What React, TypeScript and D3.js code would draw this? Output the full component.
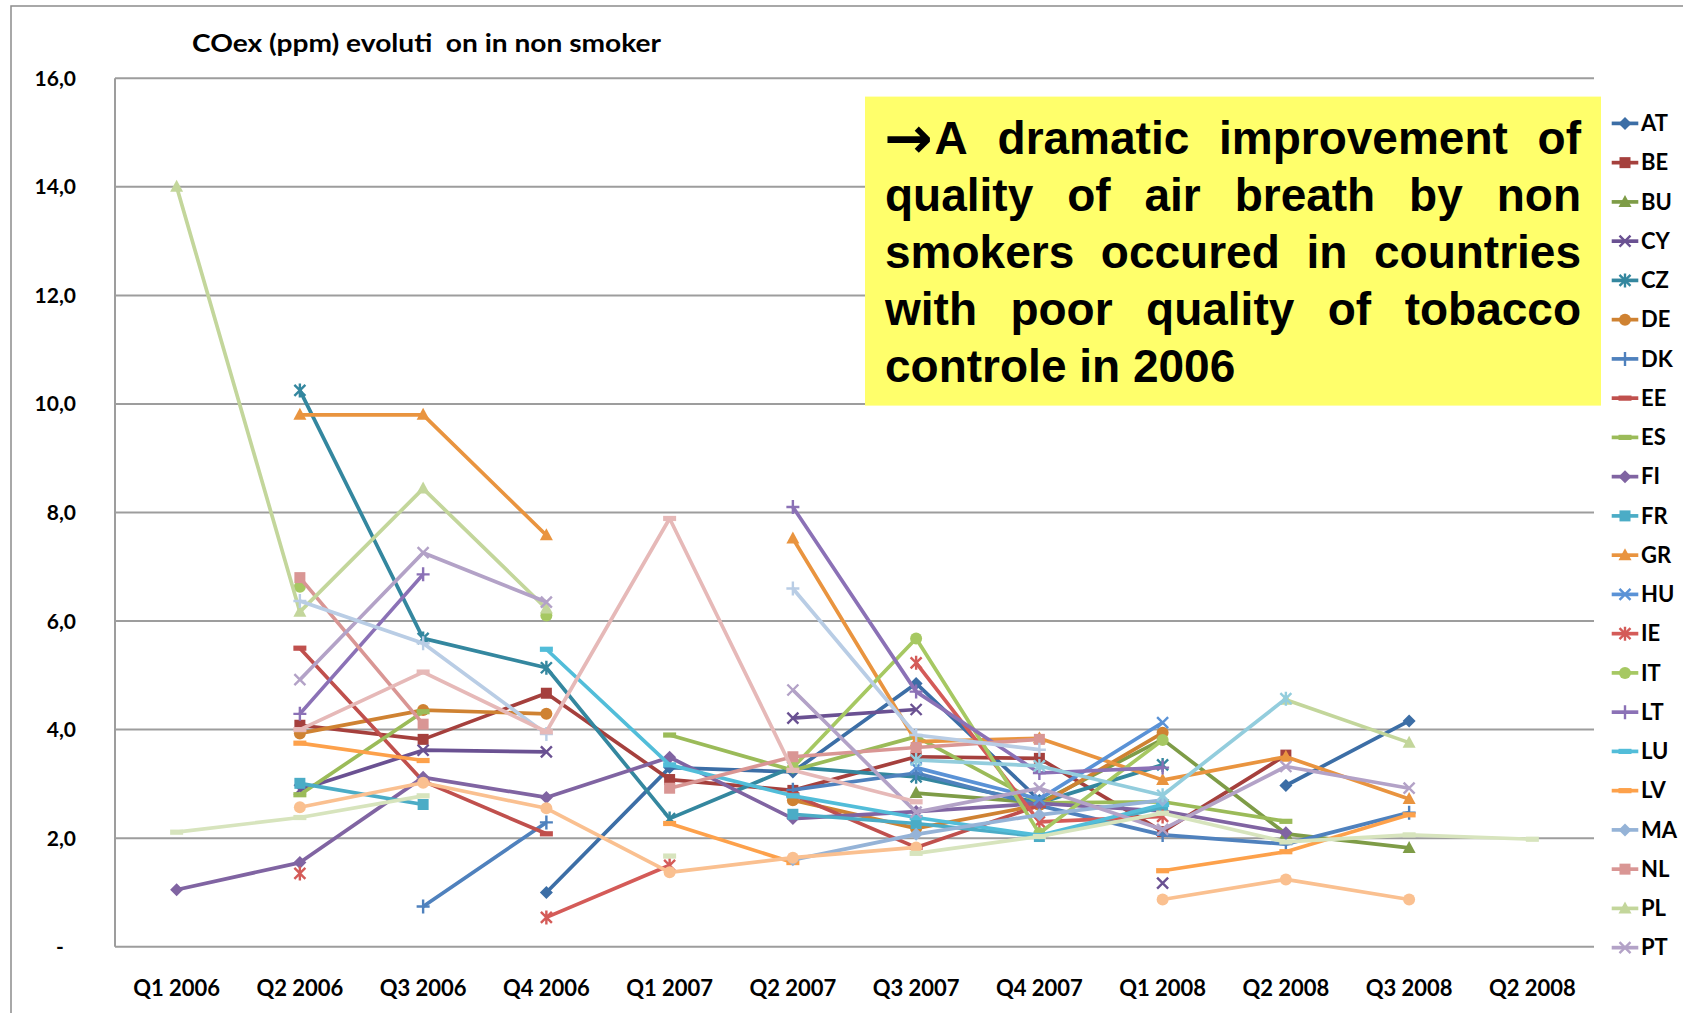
import React from 'react';
import * as d3 from 'd3';

const categories = ["Q1 2006","Q2 2006","Q3 2006","Q4 2006","Q1 2007","Q2 2007","Q3 2007","Q4 2007","Q1 2008","Q2 2008","Q3 2008","Q2 2008"];
const yTicks = [0, 2, 4, 6, 8, 10, 12, 14, 16];
const yTickLabels = ["-", "2,0", "4,0", "6,0", "8,0", "10,0", "12,0", "14,0", "16,0"];

const n = null;
const AT = [n, n, n, 1.0, 3.3, 3.22, 4.85, 2.7, n, 2.97, 4.16, n];
const BE = [n, 4.08, 3.82, 4.67, 3.08, 2.88, 3.5, 3.47, 2.12, 3.53, n, n];
const BU = [n, n, n, n, n, n, 2.83, 2.65, 3.82, 2.08, 1.82, n];
const CY = [n, 2.89, 3.62, 3.59, n, 4.21, 4.37, n, 1.17, n, n, n];
const CZ = [n, 10.25, 5.68, 5.14, 2.36, 3.31, 3.13, 2.65, 3.35, n, n, n];
const DE = [n, 3.93, 4.36, 4.29, n, 2.7, 2.18, 2.61, 3.94, n, n, n];
const DK = [n, n, 0.74, 2.29, n, 2.89, 3.2, 2.6, 2.06, 1.89, 2.47, n];
const EE = [n, 5.5, 3.05, 2.08, n, 2.8, 1.83, 2.6, n, n, n, n];
const ES = [n, 2.8, 4.33, n, 3.9, 3.25, 3.87, 2.65, 2.67, 2.31, n, n];
const FI = [1.05, 1.55, 3.12, 2.75, 3.49, 2.36, 2.49, 2.64, 2.5, 2.1, n, n];
const FR = [n, 3.01, 2.62, n, n, 2.44, 2.27, 2.03, 2.57, n, n, n];
const GR = [n, 9.8, 9.8, 7.58, n, 7.52, 3.78, 3.84, 3.07, 3.5, 2.72, n];
const HU = [n, n, n, n, n, n, 3.3, 2.72, 4.13, n, n, n];
const IE = [n, 1.35, n, 0.54, 1.5, n, 5.23, 2.3, 2.4, n, n, n];
const IT = [n, 6.63, n, 6.1, n, 3.3, 5.68, 2.09, 3.81, n, n, n];
const LT = [n, 4.29, 6.86, n, n, 8.1, 4.7, 3.2, 3.3, n, n, n];
const LU = [n, n, n, 5.48, 3.35, 2.78, 2.38, 2.05, 2.62, n, n, n];
const LV = [n, 3.75, 3.43, n, 2.27, 1.55, n, n, 1.4, 1.75, 2.43, n];
const MA = [n, n, n, n, n, 1.6, 2.07, 2.43, 2.7, n, n, n];
const NL = [n, 6.8, 4.1, n, 2.92, 3.5, 3.67, 3.82, n, n, n, n];
const PL = [14.0, 6.17, 8.44, 6.23, n, n, n, n, n, 4.55, 3.76, n];
const PT = [n, 4.92, 7.26, 6.35, n, 4.73, 2.48, 2.92, 2.16, 3.32, 2.92, n];
const S23 = [n, n, n, n, n, n, 3.44, 3.33, 2.79, 4.57, n, n];
const S24 = [n, 2.57, 3.02, 2.55, 1.37, 1.64, 1.83, n, 0.87, 1.24, 0.87, n];
const S25 = [n, 6.37, 5.59, 3.92, n, 6.6, 3.9, 3.63, n, n, n, n];
const S26 = [n, 4.0, 5.06, 3.96, 7.89, 3.25, 2.67, n, n, n, n, n];
const S27 = [2.11, 2.38, 2.78, n, 1.67, n, 1.72, 2.03, 2.46, 1.93, 2.06, 1.98];

const seriesNames = ["AT","BE","BU","CY","CZ","DE","DK","EE","ES","FI","FR","GR","HU","IE","IT","LT","LU","LV","MA","NL","PL","PT","","","","",""];
const seriesValues = [AT,BE,BU,CY,CZ,DE,DK,EE,ES,FI,FR,GR,HU,IE,IT,LT,LU,LV,MA,NL,PL,PT,S23,S24,S25,S26,S27];
const seriesColors = ["#3C6EA6","#A5403D","#7E9C47","#6A5192","#34879F","#CF8232","#4F81BD","#C0504D","#9BBB59","#8064A2","#4BACC6","#E9943F","#5A92D6","#D45B58","#A6C862","#8B71B6","#52BDD9","#FDA14B","#95B3D7","#D99694","#C3D69B","#B3A2C7","#93CDDD","#FAC090","#B9CDE5","#E6B9B8","#D7E4BD"];
const markerCycle = ["diamond","square","triangle","x","star","circle","plus","dash","dash"];
const legendCount = 22;

const titleText = "COex (ppm) evoluti  on in non smoker";
const noteArrow = "\u2192";
const noteLines = [
  "A dramatic improvement of",
  "quality of air breath by non",
  "smokers occured in countries",
  "with poor quality of tobacco",
  "controle in 2006",
];

const W = 1683, H = 1013;
const PL_LEFT = 115, PL_RIGHT = 1594, PL_TOP = 78.3, PL_BOTTOM = 946.7;

const x = d3.scaleBand<number>().domain(d3.range(categories.length)).range([PL_LEFT, PL_RIGHT]);
const cx = (i: number) => (x(i) as number) + x.bandwidth() / 2;
const y = d3.scaleLinear().domain([0, 16]).range([PL_BOTTOM, PL_TOP]);

function Marker({ type, px, py, color }: { type: string; px: number; py: number; color: string }) {
  const s = 6.5;
  switch (type) {
    case "diamond":
      return <path d={`M${px},${py - s}L${px + s},${py}L${px},${py + s}L${px - s},${py}Z`} fill={color} />;
    case "square":
      return <rect x={px - 5.5} y={py - 5.5} width={11} height={11} fill={color} />;
    case "triangle":
      return <path d={`M${px},${py - 7}L${px + 6.5},${py + 5}L${px - 6.5},${py + 5}Z`} fill={color} />;
    case "x":
      return <path d={`M${px - 5.5},${py - 5.5}L${px + 5.5},${py + 5.5}M${px + 5.5},${py - 5.5}L${px - 5.5},${py + 5.5}`} stroke={color} strokeWidth={2.4} fill="none" />;
    case "star":
      return <path d={`M${px - 5.5},${py - 5.5}L${px + 5.5},${py + 5.5}M${px + 5.5},${py - 5.5}L${px - 5.5},${py + 5.5}M${px},${py - 7}L${px},${py + 7}`} stroke={color} strokeWidth={2.4} fill="none" />;
    case "circle":
      return <circle cx={px} cy={py} r={6} fill={color} />;
    case "plus":
      return <path d={`M${px - 6.5},${py}L${px + 6.5},${py}M${px},${py - 7}L${px},${py + 7}`} stroke={color} strokeWidth={2.4} fill="none" />;
    case "dash":
      return <rect x={px - 6.5} y={py - 2.6} width={13} height={5.2} fill={color} />;
    default:
      return null;
  }
}

function measure(text: string, font: string): number {
  const c = document.createElement("canvas").getContext("2d");
  if (!c) return text.length * 25;
  c.font = font;
  return c.measureText(text).width;
}

export default function App() {
  const line = d3.line<number | null>()
    .defined((d) => d != null)
    .x((_, i) => cx(i))
    .y((d) => y(d as number));

  const noteFont = "bold 46px 'Liberation Sans', Arial, sans-serif";
  const arrowFont = "bold 58px 'DejaVu Sans', sans-serif";
  const noteLeft = 885, noteRight = 1581;
  const noteBase0 = 153.5, noteStep = 57.1;
  const arrowW = measure(noteArrow, arrowFont) + 1;

  const lab = "'Lato', 'Open Sans', sans-serif";

  return (
    <svg width={W} height={H} style={{ position: "fixed", left: 0, top: 0, background: "#fff" }}>
      <rect x={0} y={0} width={W} height={H} fill="#fff" />
      <rect x={11} y={6} width={W + 50} height={H + 50} fill="none" stroke="#8c8c8c" strokeWidth={1.5} />

      <text x={192} y={51.7} fontFamily={lab} fontWeight="bold" fontSize={25} textLength={469} lengthAdjust="spacingAndGlyphs" style={{ whiteSpace: "pre" }}>{titleText}</text>

      {yTicks.map((t) => (
        <line key={"g" + t} x1={PL_LEFT} x2={PL_RIGHT} y1={y(t)} y2={y(t)} stroke="#9d9d9d" strokeWidth={2} />
      ))}
      <line x1={PL_LEFT} x2={PL_LEFT} y1={PL_TOP} y2={PL_BOTTOM} stroke="#9d9d9d" strokeWidth={2} />

      {yTicks.map((t, i) => (
        t === 0 ? (
          <text key={"yl" + t} x={60} y={y(t) + 7.5} textAnchor="middle" fontFamily={lab} fontWeight="bold" fontSize={21}>{yTickLabels[i]}</text>
        ) : (
          <text key={"yl" + t} x={76} y={y(t) + 7.5} textAnchor="end" fontFamily={lab} fontWeight="bold" fontSize={21}>{yTickLabels[i]}</text>
        )
      ))}

      {categories.map((c, i) => (
        <text key={"xl" + i} x={cx(i)} y={996} textAnchor="middle" fontFamily={lab} fontWeight="bold" fontSize={22}>{c}</text>
      ))}

      {seriesValues.map((vals, si) => (
        <g key={"s" + si}>
          <path d={line(vals) || ""} fill="none" stroke={seriesColors[si]} strokeWidth={3.7} strokeLinejoin="round" />
          {vals.map((v, i) => v == null ? null : (
            <Marker key={i} type={markerCycle[si % markerCycle.length]} px={cx(i)} py={y(v)} color={seriesColors[si]} />
          ))}
        </g>
      ))}

      <rect x={865} y={96.6} width={736} height={309} fill="#FFFF6B" />
      <text x={noteLeft - 1} y={noteBase0 + 4} fontFamily="'DejaVu Sans', sans-serif" fontWeight="bold" fontSize={58}>{noteArrow}</text>
      {noteLines.map((ln, li) => {
        const start = li === 0 ? noteLeft + arrowW : noteLeft;
        const words = ln.split(" ");
        const widths = words.map((w) => measure(w, noteFont));
        const total = widths.reduce((a, b) => a + b, 0);
        const last = li === noteLines.length - 1;
        const gap = last ? measure(" ", noteFont) : (noteRight - start - total) / Math.max(1, words.length - 1);
        let xx = start;
        return (
          <g key={"n" + li}>
            {words.map((w, wi) => {
              const el = (
                <text key={wi} x={xx} y={noteBase0 + li * noteStep} fontFamily="'Liberation Sans', Arial, sans-serif" fontWeight="bold" fontSize={46}>{w}</text>
              );
              xx += widths[wi] + gap;
              return el;
            })}
          </g>
        );
      })}

      {seriesNames.slice(0, legendCount).map((nm, i) => {
        const ly = 123.4 + i * 39.25;
        return (
          <g key={"lg" + i}>
            <line x1={1611.7} x2={1638.3} y1={ly} y2={ly} stroke={seriesColors[i]} strokeWidth={3.7} />
            <Marker type={markerCycle[i % markerCycle.length]} px={1625} py={ly} color={seriesColors[i]} />
            <text x={1641} y={ly + 7.8} fontFamily={lab} fontWeight="bold" fontSize={22}>{nm}</text>
          </g>
        );
      })}
    </svg>
  );
}
